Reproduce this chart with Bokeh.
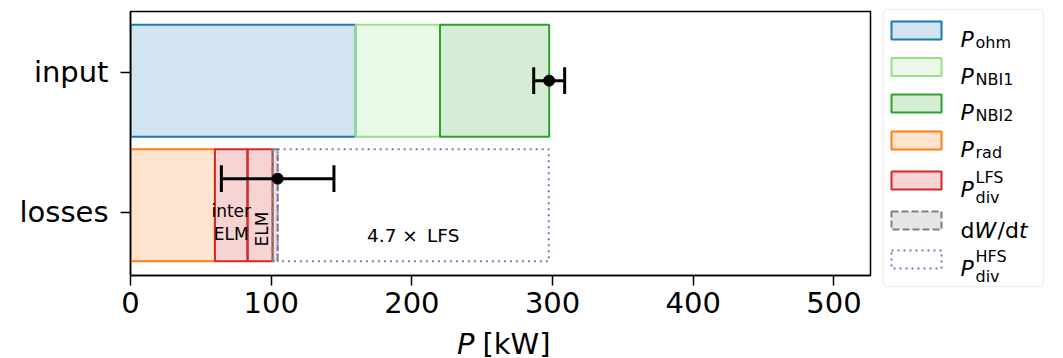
from bokeh.plotting import figure
from bokeh.models import Range1d, FixedTicker, BoxAnnotation
from bokeh.layouts import row, column
from bokeh.core.properties import value
from bokeh.embed import file_html
from bokeh.resources import INLINE
import math

# ---- data (kW) ----
categories = ["losses", "input"]
input_parts = ["ohm", "NBI1", "NBI2"]
input_values = [160.0, 60.0, 77.6]
input_err = 11.0

p_rad = 60.0
p_lfs_inter_elm = 23.2
p_lfs_elm = 17.8
p_dwdt = 3.6
hfs_to_lfs = 4.7
losses_err = 40.0

x_ticks = [0, 100, 200, 300, 400, 500]

# ---- styling ----
FONT = "DejaVu Sans"
C_OHM = "#1f77b4"
C_NBI1 = "#98df8a"
C_NBI2 = "#2ca02c"
C_RAD = "#ff7f0e"
C_LFS = "#d62728"
C_DW = "#7f7f7f"
C_HFS = "#9467bd"
LW = 2
BAR_H = 0.8
TICK_FS = "29px"

pos = {c: i for i, c in enumerate(categories)}
y_input = pos["input"] - 0.06
y_loss = pos["losses"] + 0.05

xr = Range1d(0, 526)
p = figure(width=875, height=326, x_range=xr, y_range=Range1d(-0.452, 1.434),
           output_backend="svg", toolbar_location=None,
           min_border_left=130, min_border_right=5, min_border_top=11, min_border_bottom=51)
p.xgrid.visible = False
p.ygrid.visible = False
p.outline_line_color = "black"
p.outline_line_width = 1.5
p.outline_line_alpha = 1.0

# input stack
colors_in = [C_OHM, C_NBI1, C_NBI2]
left = 0.0
for v, c in zip(input_values, colors_in):
    p.hbar(y=[y_input], left=[left], right=[left + v], height=BAR_H,
           fill_color=c, fill_alpha=0.2, line_color=c, line_width=LW)
    left += v
input_total = left

# losses stack
lfs = p_lfs_inter_elm + p_lfs_elm
p_hfs = hfs_to_lfs * lfs
p.hbar(y=[y_loss], left=[0], right=[p_rad], height=BAR_H,
       fill_color=C_RAD, fill_alpha=0.2, line_color=C_RAD, line_width=LW)
x0 = p_rad
p.hbar(y=[y_loss], left=[x0], right=[x0 + p_lfs_inter_elm], height=BAR_H,
       fill_color=C_LFS, fill_alpha=0.2, line_color=C_LFS, line_width=LW)
x1 = x0 + p_lfs_inter_elm
p.hbar(y=[y_loss], left=[x1], right=[x1 + p_lfs_elm], height=BAR_H,
       fill_color=C_LFS, fill_alpha=0.2, line_color=C_LFS, line_width=LW)
x2 = x1 + p_lfs_elm
p.hbar(y=[y_loss], left=[x2], right=[x2 + p_dwdt], height=BAR_H,
       fill_color=C_DW, fill_alpha=0.2, line_color=C_DW, line_width=LW, line_dash="7 3")
x3 = x2 + p_dwdt
p.hbar(y=[y_loss], left=[x3], right=[x3 + p_hfs], height=BAR_H,
       fill_alpha=0, line_color=C_HFS, line_width=LW, line_dash="2 4")

# annotations inside the losses bar
txt = dict(text_font=value(FONT), text_font_size="17px", text_color="black")
p.text(x=[x0 + p_lfs_inter_elm / 2], y=[y_loss - 0.125], text=["inter\nELM"],
       text_align="center", text_baseline="middle", text_line_height=1.15, **txt)
p.text(x=[x1 + p_lfs_elm / 2 + 1.5], y=[y_loss - 0.17], text=["ELM"], angle=math.pi / 2,
       text_align="center", text_baseline="middle", **txt)
p.text(x=[x3 + p_hfs / 2], y=[y_loss - 0.215], text=["4.7 \u00d7\u2002LFS"],
       text_align="center", text_baseline="middle", text_font=value(FONT),
       text_font_size="18.5px", text_color="black")

# error bars
loss_total = x3
err_y = [y_input, y_loss + 0.19]
err_x = [input_total, loss_total]
err_e = [input_err, losses_err]
cap = 0.095
for xx, yy, ee in zip(err_x, err_y, err_e):
    p.segment(x0=[xx - ee], y0=[yy], x1=[xx + ee], y1=[yy], line_color="black", line_width=3)
    p.segment(x0=[xx - ee, xx + ee], y0=[yy - cap] * 2, x1=[xx - ee, xx + ee], y1=[yy + cap] * 2,
              line_color="black", line_width=3)
p.scatter(x=err_x, y=err_y, size=11, color="black")

# axes
for ax in (p.xaxis[0], p.yaxis[0]):
    ax.axis_line_width = 1.5
    ax.major_tick_line_width = 1.5
    ax.major_tick_out = 10
    ax.major_tick_in = 0
    ax.minor_tick_out = 0
    ax.minor_tick_in = 0
    ax.major_label_text_font = FONT
    ax.major_label_text_font_size = TICK_FS
    ax.major_label_text_color = "black"
p.yaxis.ticker = FixedTicker(ticks=list(pos.values()))
p.yaxis.major_label_overrides = {i: c for c, i in pos.items()}
p.yaxis.major_label_standoff = 12
p.xaxis.ticker = FixedTicker(ticks=x_ticks)
p.xaxis.major_label_standoff = 6

# ---- x-axis title strip (italic P), sharing the x range ----
xlab = figure(width=875, height=32, x_range=xr, y_range=Range1d(0, 32),
              output_backend="svg", toolbar_location=None,
              min_border_left=130, min_border_right=5, min_border_top=0, min_border_bottom=0,
              x_axis_location=None, y_axis_location=None)
xlab.xgrid.visible = False
xlab.ygrid.visible = False
xlab.outline_line_color = None
xmid = (xr.start + xr.end) / 2
xlab.text(x=[xmid], y=[15], text=["P"], text_font=value(FONT), text_font_size=TICK_FS,
          text_font_style="italic", text_align="right", text_baseline="alphabetic",
          text_color="black", x_offset=-26)
xlab.text(x=[xmid], y=[15], text=["[kW]"], text_font=value(FONT), text_font_size=TICK_FS,
          text_align="left", text_baseline="alphabetic", text_color="black", x_offset=-18)

# ---- legend panel ----
H = 358
lg = figure(width=188, height=H, x_range=Range1d(0, 188), y_range=Range1d(0, H),
            output_backend="svg", toolbar_location=None, min_border=0,
            x_axis_location=None, y_axis_location=None)
lg.xgrid.visible = False
lg.ygrid.visible = False
lg.outline_line_color = None
lg.add_layout(BoxAnnotation(left=7.5, right=168, top=H - 9, bottom=H - 286, fill_color="white",
                            fill_alpha=1, line_color="#cccccc", line_width=1.5, border_radius=5,
                            level="underlay"))

entries = [
    (C_OHM, 0.2, "solid", "ohm", None),
    (C_NBI1, 0.2, "solid", "NBI1", None),
    (C_NBI2, 0.2, "solid", "NBI2", None),
    (C_RAD, 0.2, "solid", "rad", None),
    (C_LFS, 0.2, "solid", "div", "LFS"),
    (C_DW, 0.2, "7 3", None, None),
    (C_HFS, 0.0, "2 4", "div", "HFS"),
]
row_y = [30, 66.5, 103, 140, 180, 220, 259]
sw_x, sw_w, sw_h = 41, 50, 18
tx = 85
big = dict(text_font=value(FONT), text_font_size="22px", text_color="black",
           text_baseline="alphabetic")
small = dict(text_font=value(FONT), text_font_size="16px", text_color="black",
             text_baseline="alphabetic")
for (c, a, dash, sub, sup), yy in zip(entries, row_y):
    lg.rect(x=[sw_x], y=[H - yy], width=sw_w, height=sw_h, fill_color=c if a > 0 else None,
            fill_alpha=a, line_color=c, line_width=LW, line_dash=dash)
    base = yy + 9
    if sub is None and sup is None:
        base = yy + 10
        lg.text(x=[tx], y=[H - base], text=["d"], **big)
        lg.text(x=[tx + 14], y=[H - base], text=["W"], text_font_style="italic", **big)
        lg.text(x=[tx + 37], y=[H - base], text=["/d"], **big)
        lg.text(x=[tx + 58.5], y=[H - base], text=["t"], text_font_style="italic", **big)
        continue
    lg.text(x=[tx], y=[H - base], text=["P"], text_font_style="italic", **big)
    if sup is None:
        lg.text(x=[tx + 15], y=[H - base - 3.3], text=[sub], **small)
    else:
        lg.text(x=[tx + 15], y=[H - base + 12.5], text=[sup], **small)
        lg.text(x=[tx + 15], y=[H - base - 7.5], text=[sub], **small)

layout = row(column(p, xlab), lg)
open("out.html", "w").write(file_html(layout, INLINE))
